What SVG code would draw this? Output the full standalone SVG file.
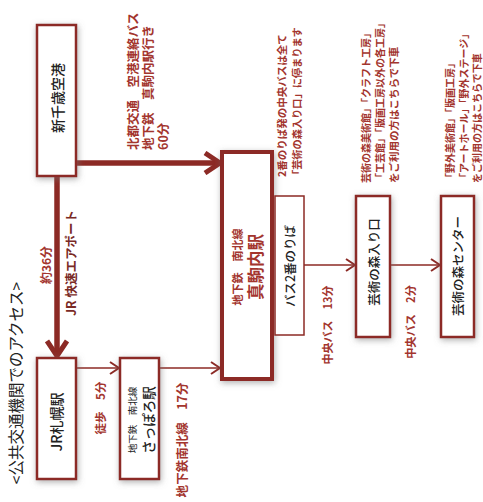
<svg xmlns="http://www.w3.org/2000/svg" width="483" height="502" viewBox="0 0 483 502">
<defs>
<filter id="sh" x="-30%" y="-30%" width="160%" height="160%">
<feDropShadow dx="1" dy="2" stdDeviation="3" flood-color="#707070" flood-opacity="0.55"/>
</filter>
<marker id="ah" markerWidth="12" markerHeight="14" refX="10" refY="7" orient="auto" markerUnits="userSpaceOnUse">
<path d="M1,1 L10,7 L1,13" fill="none" stroke="#8c2a25" stroke-width="2"/>
</marker>
<marker id="ahb" markerWidth="20" markerHeight="24" refX="17" refY="12" orient="auto" markerUnits="userSpaceOnUse">
<path d="M2,2 L17,12 L2,22" fill="none" stroke="#8c2a25" stroke-width="5"/>
</marker>
</defs>
<style>
text{font-family:"Noto Sans CJK JP","Liberation Sans",sans-serif;dominant-baseline:central}
.node{fill:#fff;stroke:#8c2a25;stroke-width:2.5;filter:url(#sh)}
.nt{fill:#222;font-size:14px;text-anchor:middle;font-weight:500}
.lb{fill:#a3352e;font-weight:bold}
.thin{fill:none;stroke:#8c2a25;stroke-width:1.5}
.thick{fill:none;stroke:#8c2a25;stroke-width:5.5}
</style>
<rect width="483" height="502" fill="#fff"/>

<text transform="translate(15,383) rotate(-90)" style="font-size:15.5px;fill:#222;text-anchor:middle">&lt;公共交通機関でのアクセス&gt;</text>

<g id="connectors">
<line class="thick" x1="57" y1="176" x2="57" y2="356" marker-end="url(#ahb)"/>
<line class="thick" x1="76" y1="163" x2="220" y2="163" marker-end="url(#ahb)"/>
<line class="thin" x1="76" y1="368" x2="119" y2="368" marker-end="url(#ah)"/>
<line class="thin" x1="159" y1="368" x2="220" y2="368" marker-end="url(#ah)"/>
<line class="thin" x1="304" y1="265" x2="355" y2="265" marker-end="url(#ah)"/>
<line class="thin" x1="390" y1="265" x2="440" y2="265" marker-end="url(#ah)"/>
</g>

<g id="labels">
<text class="lb" transform="translate(45,265) rotate(-90)" style="font-size:12px;text-anchor:middle">約36分</text>
<text transform="translate(70,263) rotate(-90)" style="font-size:12.5px;text-anchor:middle;fill:#7a2a25;font-weight:bold">JR 快速エアポート</text>
<text class="lb" transform="translate(132,150) rotate(-90)" style="font-size:12.5px">北都交通　空港連絡バス</text>
<text class="lb" transform="translate(147,150) rotate(-90)" style="font-size:12.5px">地下鉄　真駒内駅行き</text>
<text class="lb" transform="translate(162,150) rotate(-90)" style="font-size:12.5px">60分</text>
<text class="lb" transform="translate(100,408) rotate(-90)" style="font-size:11.5px;text-anchor:middle">徒歩　5分</text>
<text class="lb" transform="translate(181,440) rotate(-90)" style="font-size:12.5px;text-anchor:middle">地下鉄南北線　17分</text>
<text class="lb" transform="translate(281,177) rotate(-90)" style="font-size:10.5px">2番のりば発の中央バスは全て</text>
<text class="lb" transform="translate(296,180) rotate(-90)" style="font-size:10.2px">「芸術の森入り口」に停まります</text>
<text class="lb" transform="translate(327,325) rotate(-90)" style="font-size:11px;text-anchor:middle">中央バス　13分</text>
<text class="lb" transform="translate(410,322) rotate(-90)" style="font-size:11.2px;text-anchor:middle">中央バス　2分</text>
<text class="lb" transform="translate(365,183) rotate(-90)" style="font-size:10px">芸術の森美術館」「クラフト工房」</text>
<text class="lb" transform="translate(379,183) rotate(-90)" style="font-size:10px">「工芸館」「版画工房以外の各工房」</text>
<text class="lb" transform="translate(393,183) rotate(-90)" style="font-size:10.5px">をご利用の方はこちらで下車</text>
<text class="lb" transform="translate(449,183) rotate(-90)" style="font-size:10px">「野外美術館」「版画工房」</text>
<text class="lb" transform="translate(463,183) rotate(-90)" style="font-size:10px">「アートホール」「野外ステージ」</text>
<text class="lb" transform="translate(476.5,183) rotate(-90)" style="font-size:10px">をご利用の方はこちらで下車</text>
</g>

<g id="shinchitose">
<rect class="node" x="37" y="25" width="39" height="151"/>
<text class="nt" transform="translate(57,98) rotate(-90)">新千歳空港</text>
</g>
<g id="jrsapporo">
<rect class="node" x="37" y="358" width="39" height="121"/>
<text class="nt" transform="translate(56,422) rotate(-90)">JR札幌駅</text>
</g>
<g id="sapporo">
<rect class="node" x="120" y="358" width="39" height="121"/>
<text transform="translate(132,420) rotate(-90)" style="font-size:9.5px;fill:#222;text-anchor:middle">地下鉄　南北線</text>
<text class="nt" transform="translate(148,420) rotate(-90)" style="font-size:13.5px">さっぽろ駅</text>
</g>
<g id="makomanai">
<rect class="node" x="222" y="152" width="50" height="227" style="stroke-width:4"/>
<text transform="translate(237,267) rotate(-90)" style="font-size:11px;fill:#a3352e;text-anchor:middle;font-weight:bold">地下鉄　南北線</text>
<text transform="translate(255,267) rotate(-90)" style="font-size:16.5px;fill:#a3352e;text-anchor:middle;font-weight:bold">真駒内駅</text>
</g>
<g id="bus2">
<rect x="275" y="196" width="29" height="139" fill="#fff" stroke="#8c2a25" stroke-width="1.5"/>
<text class="nt" transform="translate(289,266) rotate(-90)" style="font-size:12.5px">バス2番のりば</text>
</g>
<g id="geijutsu-iriguchi">
<rect class="node" x="356" y="196" width="34" height="141"/>
<text class="nt" transform="translate(373,262) rotate(-90)" style="font-size:12.5px">芸術の森入り口</text>
</g>
<g id="geijutsu-center">
<rect class="node" x="441" y="196" width="33" height="141"/>
<text class="nt" transform="translate(457,266) rotate(-90)" style="font-size:12.5px">芸術の森センター</text>
</g>
</svg>
